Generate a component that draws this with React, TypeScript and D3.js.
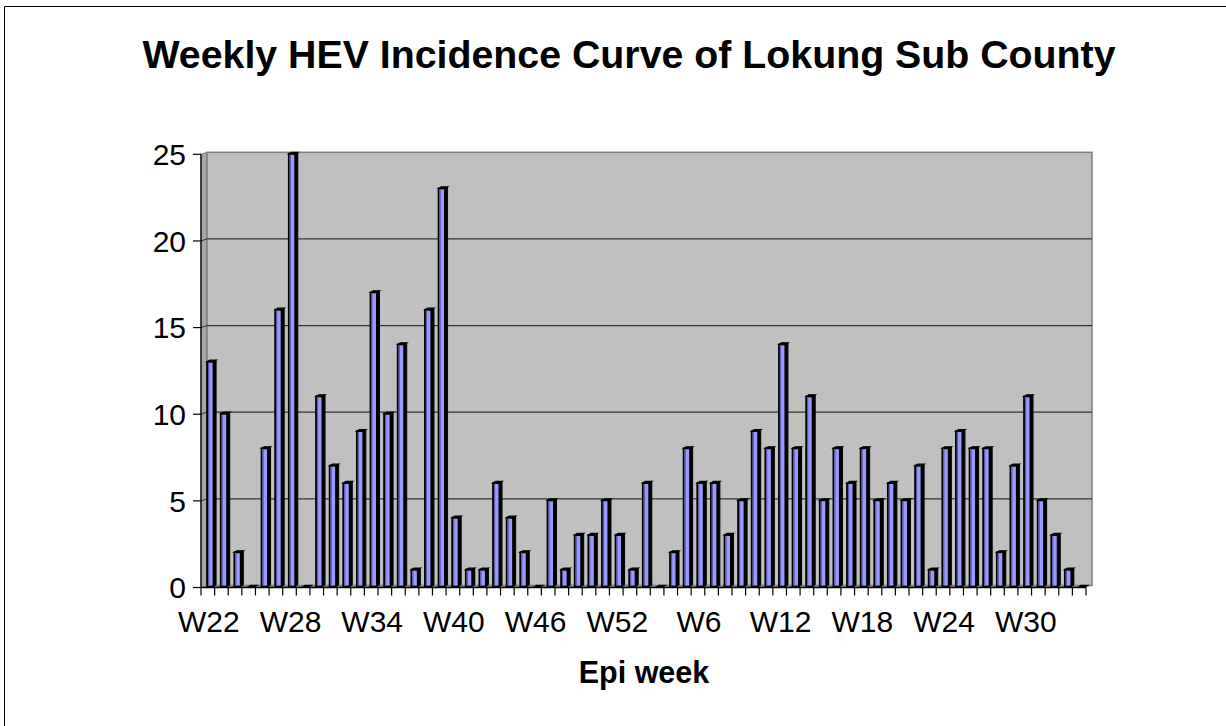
import React from "react";
import * as d3 from "d3";

const weeks: string[] = [
  "W22","W23","W24","W25","W26","W27","W28","W29","W30","W31","W32","W33","W34","W35","W36","W37","W38","W39","W40","W41","W42","W43","W44","W45","W46","W47","W48","W49","W50","W51","W52",
  "W1","W2","W3","W4","W5","W6","W7","W8","W9","W10","W11","W12","W13","W14","W15","W16","W17","W18","W19","W20","W21","W22b","W23b","W24b","W25b","W26b","W27b","W28b","W29b","W30b","W31b","W32b","W33b","W34b"
];
const cases: number[] = [
  13,10,2,0,8,16,25,0,11,7,6,9,17,10,14,1,16,23,4,1,1,6,4,2,0,5,1,3,3,5,3,
  1,6,0,2,8,6,6,3,5,9,8,14,8,11,5,8,6,8,5,6,5,7,1,8,9,8,8,2,7,11,5,3,1,0
];
const yTicks: number[] = [0, 5, 10, 15, 20, 25];
const title = "Weekly HEV Incidence Curve of Lokung Sub County";
const xTitle = "Epi week";

const FONT = "'Liberation Sans', Arial, sans-serif";

export default function App() {
  const x0 = 201, x1 = 1086;
  const yBottom = 587.5, yTop = 154.3;
  const dx = 6, dy = -2; // 3D depth offset

  const x = d3.scaleBand<string>().domain(weeks).range([x0, x1]).padding(0);
  const y = d3.scaleLinear().domain([0, 25]).range([yBottom, yTop]);
  const bw = x.bandwidth();

  const labelFor = (w: string) => w.replace("b", "");

  return (
    <svg width={1226} height={726} style={{ position: "absolute", left: 0, top: 0, background: "#fff" }}>
      {/* outer border */}
      <path d="M4.5,726 L4.5,6.5 L1226,6.5" fill="none" stroke="#000" strokeWidth={1} />
      <text x={629} y={68} textAnchor="middle" fontFamily={FONT} fontWeight="bold" fontSize={39.3}>{title}</text>

      {/* side wall */}
      <polygon points={`${x0},${yTop} ${x0 + dx},${yTop + dy} ${x0 + dx},${yBottom + dy} ${x0},${yBottom}`} fill="#a6a6a6" stroke="#808080" strokeWidth={1} />
      {/* floor */}
      <polygon points={`${x0},${yBottom} ${x0 + dx},${yBottom + dy} ${x1 + dx},${yBottom + dy} ${x1},${yBottom}`} fill="#8c8c8c" />
      {/* back wall */}
      <rect x={x0 + dx} y={yTop + dy} width={x1 - x0} height={yBottom - yTop} fill="#c0c0c0" stroke="#808080" strokeWidth={1.5} />
      {/* gridlines */}
      {yTicks.filter(t => t > 0 && t < 25).map(t => (
        <g key={t}>
          <line x1={x0} y1={y(t)} x2={x0 + dx} y2={y(t) + dy} stroke="#333" strokeWidth={1} />
          <line x1={x0 + dx} y1={y(t) + dy} x2={x1 + dx} y2={y(t) + dy} stroke="#333" strokeWidth={1.3} />
        </g>
      ))}

      {/* bars */}
      {weeks.map((w, i) => {
        const v = cases[i];
        const cx = (x(w) as number) + bw / 2 + dx / 2 - 0.5;
        const top = y(v) + dy / 2 + 0.5;
        const base = yBottom + dy / 2;
        const hw = 3.2;
        const d = 2.6;
        return (
          <g key={w}>
            {v > 0 && (
              <>
                <polygon points={`${cx + hw},${top} ${cx + hw + d},${top - d * 0.6} ${cx + hw + d},${base - d * 0.6} ${cx + hw},${base}`} fill="#000" stroke="#000" strokeWidth={1} />
                <rect x={cx - hw} y={top} width={hw * 2} height={base - top} fill="#9999ff" stroke="#000" strokeWidth={1.8} />
                <rect x={cx - hw + 0.9} y={top + 0.9} width={1.2} height={Math.max(0, base - top - 1.8)} fill="#5a5aa8" />
              </>
            )}
            <polygon points={`${cx - hw},${top} ${cx - hw + d},${top - d * 0.6} ${cx + hw + d},${top - d * 0.6} ${cx + hw},${top}`} fill="#000" stroke="#000" strokeWidth={1.2} />
          </g>
        );
      })}

      {/* axes */}
      <line x1={x0} y1={yTop} x2={x0} y2={yBottom} stroke="#000" strokeWidth={1.3} />
      <line x1={x0} y1={yBottom} x2={x1} y2={yBottom} stroke="#000" strokeWidth={1.3} />
      {yTicks.map(t => (
        <g key={t}>
          <line x1={x0 - 8} y1={y(t)} x2={x0} y2={y(t)} stroke="#000" strokeWidth={1.2} />
          <text x={186} y={y(t) + 10.8} textAnchor="end" fontFamily={FONT} fontSize={30}>{t}</text>
        </g>
      ))}
      {weeks.map((w) => (
        <line key={w} x1={x(w) as number} y1={yBottom} x2={x(w) as number} y2={yBottom + 8} stroke="#000" strokeWidth={1.2} />
      ))}
      <line x1={x1} y1={yBottom} x2={x1} y2={yBottom + 8} stroke="#000" strokeWidth={1.2} />
      {weeks.map((w, i) => i % 6 === 0 ? (
        <text key={w} x={(x(w) as number) + bw / 2 + 1} y={631.5} textAnchor="middle" fontFamily={FONT} fontSize={30}>{labelFor(w)}</text>
      ) : null)}
      <text x={644} y={683} textAnchor="middle" fontFamily={FONT} fontWeight="bold" fontSize={30.5}>{xTitle}</text>
    </svg>
  );
}
